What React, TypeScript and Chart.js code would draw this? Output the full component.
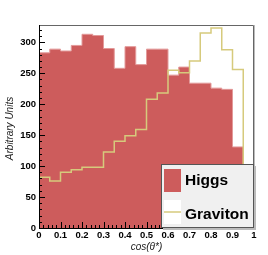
import React, { useEffect, useRef } from "react";
import { Chart, registerables } from "chart.js";

Chart.register(...registerables);

// Bin low edges of cos(theta*) histogram
const binLowEdges = [0, 0.05, 0.1, 0.15, 0.2, 0.25, 0.3, 0.35, 0.4, 0.45, 0.5, 0.55, 0.6, 0.65, 0.7, 0.75, 0.8, 0.85, 0.9, 0.95];
const binUpperEdge = 1;
const higgsValues = [283, 289, 286, 295, 313, 311, 290, 258, 293, 264, 289, 289, 247, 260, 234, 234, 226, 224, 131, 0];
const gravitonValues = [82, 76, 90, 94, 98, 98, 123, 140, 149, 159, 208, 218, 255, 251, 270, 315, 323, 288, 256, 1];
const seriesNames = ["Higgs", "Graviton"];
const xTickValues = [0, 0.1, 0.2, 0.3, 0.4, 0.5, 0.6, 0.7, 0.8, 0.9, 1];
const xTickLabels = ["0", "0.1", "0.2", "0.3", "0.4", "0.5", "0.6", "0.7", "0.8", "0.9", "1"];
const yTickValues = [0, 50, 100, 150, 200, 250, 300];
const yTickLabels = ["0", "50", "100", "150", "200", "250", "300"];
const xTitle = "cos(θ*)";
const yTitle = "Arbitrary Units";

const FONT = "'Liberation Sans', Arial, Helvetica, sans-serif";
const HIGGS_COLOR = "#cd5c5c";
const GRAV_COLOR = "#d6ca7c";

function histPoints(vals: number[]) {
  const pts: { x: number; y: number }[] = [{ x: binLowEdges[0], y: 0 }];
  vals.forEach((v, i) => pts.push({ x: binLowEdges[i], y: v }));
  pts.push({ x: binUpperEdge, y: vals[vals.length - 1] });
  pts.push({ x: binUpperEdge, y: 0 });
  return pts;
}

const decorPlugin = {
  id: "decor",
  afterDatasetsDraw(chart: any) {
    const { ctx, chartArea: a, scales } = chart;
    const xs = scales.x;
    const ys = scales.y;
    ctx.save();
    ctx.strokeStyle = "#000";
    ctx.lineWidth = 1;
    ctx.beginPath();
    // y ticks (inside)
    for (let v = 0; v <= 320; v += 10) {
      const y = Math.round(ys.getPixelForValue(v)) + 0.5;
      const len = v % 50 === 0 ? 6 : 3;
      ctx.moveTo(a.left, y);
      ctx.lineTo(a.left + len, y);
    }
    // x ticks (inside)
    for (let i = 0; i <= 50; i++) {
      const x = Math.round(xs.getPixelForValue(i * 0.02)) + 0.5;
      const len = i % 5 === 0 ? 6 : 3;
      ctx.moveTo(x, a.bottom);
      ctx.lineTo(x, a.bottom - len);
    }
    ctx.stroke();

    // frame
    ctx.strokeStyle = "#666";
    ctx.beginPath();
    ctx.moveTo(a.left + 0.5, a.top + 0.5);
    ctx.lineTo(a.right - 0.5, a.top + 0.5);
    ctx.lineTo(a.right - 0.5, a.bottom);
    ctx.stroke();
    ctx.strokeStyle = "#bbb";
    ctx.beginPath();
    ctx.moveTo(a.right + 0.5, a.top);
    ctx.lineTo(a.right + 0.5, a.bottom);
    ctx.stroke();
    ctx.strokeStyle = "#000";
    ctx.beginPath();
    ctx.moveTo(a.left + 0.5, a.top);
    ctx.lineTo(a.left + 0.5, a.bottom + 0.5);
    ctx.lineTo(a.right, a.bottom + 0.5);
    ctx.stroke();

    // legend
    const lx = 161, ly = 164, lw = a.right - 161, lh = a.bottom - 164;
    ctx.fillStyle = "#bbb";
    ctx.fillRect(lx + 2, ly + 2, lw, lh);
    ctx.fillStyle = "#f0f0f0";
    ctx.fillRect(lx, ly, lw, lh);
    ctx.strokeStyle = "#555";
    ctx.strokeRect(lx + 0.5, ly + 0.5, lw - 1, lh - 1);
    const ds = chart.data.datasets;
    ctx.fillStyle = HIGGS_COLOR;
    ctx.fillRect(164, 169, 17, 23);
    ctx.fillStyle = "#fff";
    ctx.fillRect(164, 200, 17, 24);
    ctx.strokeStyle = GRAV_COLOR;
    ctx.lineWidth = 1.5;
    ctx.beginPath();
    ctx.moveTo(164, 212);
    ctx.lineTo(181, 212);
    ctx.stroke();
    ctx.fillStyle = "#000";
    ctx.font = `bold 15.5px ${FONT}`;
    ctx.textAlign = "left";
    ctx.textBaseline = "alphabetic";
    ctx.fillText(ds[0].label, 185, 185);
    ctx.fillText(ds[1].label, 185, 219);

    // axis titles
    ctx.fillStyle = "#222";
    ctx.font = `italic 10px ${FONT}`;
    ctx.textAlign = "center";
    ctx.textBaseline = "middle";
    ctx.fillText(xTitle, (a.left + a.right) / 2, 247);
    ctx.translate(10, (a.top + a.bottom) / 2 + 2);
    ctx.rotate(-Math.PI / 2);
    ctx.fillText(yTitle, 0, 0);
    ctx.restore();
  },
};

export default function App() {
  const ref = useRef<HTMLCanvasElement>(null);
  useEffect(() => {
    if (!ref.current) return;
    const chart = new Chart(ref.current, {
      type: "line",
      data: {
        datasets: [
          {
            label: seriesNames[0],
            data: histPoints(higgsValues),
            stepped: true,
            fill: "origin",
            backgroundColor: HIGGS_COLOR,
            borderColor: "#e39a9a",
            borderWidth: 1,
            pointRadius: 0,
            order: 1,
          },
          {
            label: seriesNames[1],
            data: histPoints(gravitonValues),
            stepped: true,
            fill: false,
            borderColor: GRAV_COLOR,
            borderWidth: 1.5,
            pointRadius: 0,
            order: 0,
          },
        ],
      },
      options: {
        animation: false,
        responsive: false,
        devicePixelRatio: 1,
        layout: { padding: { top: 25, right: 14, left: 0, bottom: 0 } },
        plugins: { legend: { display: false }, tooltip: { enabled: false } },
        scales: {
          x: {
            type: "linear",
            min: 0,
            max: 1,
            afterBuildTicks: (s: any) => {
              s.ticks = xTickValues.map((v) => ({ value: v }));
            },
            ticks: {
              autoSkip: false,
              maxRotation: 0,
              padding: 2,
              color: "#000",
              font: { family: FONT, size: 9.5, weight: "bold" },
              callback: (_v: any, i: number) => xTickLabels[i],
            },
            grid: { display: false, drawTicks: false },
            border: { display: false },
            afterFit: (s: any) => {
              s.height = 27;
            },
          },
          y: {
            type: "linear",
            min: 0,
            max: 328,
            afterBuildTicks: (s: any) => {
              s.ticks = yTickValues.map((v) => ({ value: v }));
            },
            ticks: {
              padding: 3,
              color: "#000",
              font: { family: FONT, size: 9.5, weight: "bold" },
              callback: (_v: any, i: number) => yTickLabels[i],
            },
            grid: { display: false, drawTicks: false },
            border: { display: false },
            afterFit: (s: any) => {
              s.width = 39;
            },
          },
        },
      },
      plugins: [decorPlugin],
    } as any);
    return () => chart.destroy();
  }, []);
  return (
    <div style={{ position: "absolute", left: 0, top: 0, width: 268, height: 255 }}>
      <canvas ref={ref} width={268} height={255} />
    </div>
  );
}
